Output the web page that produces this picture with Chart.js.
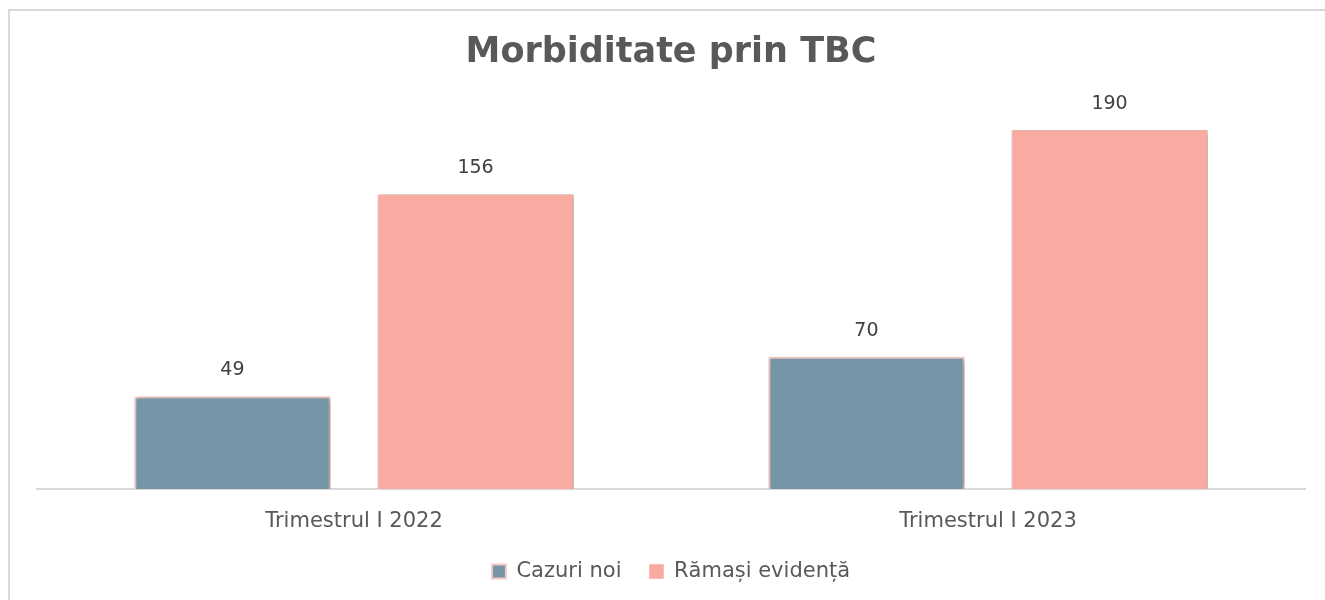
<!DOCTYPE html>
<html>
<head>
<meta charset="utf-8">
<script src="https://cdn.jsdelivr.net/npm/chart.js@4"></script>
<style>
  body { margin: 0; background: #fff; }
  #frame {
    position: absolute; left: 8px; top: 9px; width: 1330px; height: 600px;
    border-left: 2px solid #d9d9d9; border-top: 2px solid #d9d9d9;
  }
  #wrap { position: absolute; left: 0; top: 0; width: 1325px; height: 600px; }
</style>
</head>
<body>
<div id="frame"></div>
<div id="wrap"><canvas id="myChart"></canvas></div>
<script>
// ---------------------------------------------------------------- DATA
const categories = ["Trimestrul I 2022", "Trimestrul I 2023"];
const cazuriNoi = [49, 70];
const ramasiEvidenta = [156, 190];
const seriesNames = ["Cazuri noi", "Rămași evidență"];

const FONT = "'DejaVu Sans', sans-serif";

// ---------------------------------------------------------------- PLUGINS
// soft shadow behind bars
const barShadow = {
  id: "barShadow",
  beforeDatasetsDraw(chart) {
    const ctx = chart.ctx;
    ctx.save();
    ctx.shadowColor = "rgba(0,0,0,0.35)";
    ctx.shadowBlur = 5;
    ctx.shadowOffsetX = 2;
    ctx.shadowOffsetY = 1;
  },
  afterDatasetsDraw(chart) {
    chart.ctx.restore();
  },
};

// value labels above each bar
const valueLabels = {
  id: "valueLabels",
  afterDatasetsDraw(chart) {
    const ctx = chart.ctx;
    ctx.save();
    ctx.font = "19px " + FONT;
    ctx.fillStyle = "#404040";
    ctx.textAlign = "center";
    ctx.textBaseline = "middle";
    chart.data.datasets.forEach((ds, i) => {
      chart.getDatasetMeta(i).data.forEach((bar, j) => {
        ctx.fillText(ds.data[j], bar.x, bar.y - 26);
      });
    });
    ctx.restore();
  },
};

// ---------------------------------------------------------------- CHART
const graph = document.querySelector("#myChart");

new Chart(graph, {
  type: "bar",
  data: {
    labels: categories,
    datasets: [
      {
        label: seriesNames[0],
        data: cazuriNoi,
        backgroundColor: "rgb(116,150,166)",
        borderColor: "rgb(246,200,200)",
        borderWidth: 2,
      },
      {
        label: seriesNames[1],
        data: ramasiEvidenta,
        backgroundColor: "rgb(250,171,161)",
        borderColor: "rgb(250,190,182)",
        borderWidth: 1,
      },
    ],
  },
  options: {
    responsive: true,
    maintainAspectRatio: false,
    animation: false,
    categoryPercentage: 0.767,
    barPercentage: 0.807,
    layout: { padding: { left: 37, right: 20, top: 28, bottom: 8 } },
    plugins: {
      title: {
        display: true,
        text: "Morbiditate prin TBC",
        color: "#595959",
        font: { family: FONT, size: 35, weight: "bold" },
        padding: { top: 4, bottom: 37 },
      },
      legend: {
        position: "bottom",
        labels: {
          color: "#595959",
          font: { family: FONT, size: 21 },
          boxWidth: 14,
          boxHeight: 14,
          padding: 28,
        },
      },
      tooltip: { enabled: false },
    },
    scales: {
      x: {
        afterFit: (scale) => { scale.height = 44; },
        grid: { display: false, drawTicks: false },
        border: { display: true, color: "#d9d9d9", width: 2 },
        ticks: { color: "#595959", font: { family: FONT, size: 21 }, padding: 20 },
      },
      y: {
        display: false,
        min: 0,
        max: 200,
      },
    },
  },
  plugins: [barShadow, valueLabels],
});
</script>
</body>
</html>
